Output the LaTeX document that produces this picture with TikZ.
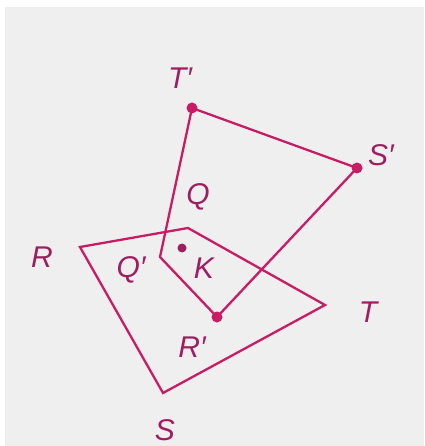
\documentclass[tikz,border=0pt]{standalone}
\usepackage{fontspec}
\setmainfont{Liberation Sans}
\usepackage{tikz}
\usetikzlibrary{positioning}
\definecolor{magline}{RGB}{200,28,100}
\definecolor{maglabel}{RGB}{160,30,95}
\definecolor{paper}{RGB}{239,239,239}

\tikzset{
  edge/.style={magline, line width=2.3pt, line join=miter},
  vdot/.style={circle, fill=magline, inner sep=0pt, minimum size=11pt},
  kdot/.style={circle, fill=maglabel, inner sep=0pt, minimum size=9pt},
  lbl/.style={maglabel, font=\fontsize{30}{32}\selectfont\itshape, inner sep=0pt}
}

\begin{document}
\begin{tikzpicture}[x=1pt, y=-1pt]
  % page
  \fill[white] (0,0) rectangle (424,446);
  \fill[paper] (5,7) rectangle (424,446);
  \useasboundingbox (0,0) rectangle (424,446);

  % original figure QRST
  \coordinate (R) at (80,247);
  \coordinate (Q) at (188,228);
  \coordinate (T) at (325,305);
  \coordinate (S) at (163,393);
  \draw[edge] (R) -- (Q) -- (T) -- (S) -- cycle;

  % rotated image Q'T'S'R'
  \coordinate (Qp) at (160,257);
  \node[vdot] (Tp) at (192,108) {};
  \node[vdot] (Sp) at (357,168) {};
  \node[vdot] (Rp) at (217,317) {};
  \draw[edge] (Qp) -- (Tp.center) -- (Sp.center) -- (Rp.center) -- cycle;

  % center of rotation
  \node[kdot] (K) at (182,248) {};

  % labels
  \node[lbl] (lT') at (180,78) {T′};
  \node[lbl] (lS') at (381,155) {S′};
  \node[lbl] (lQ) at (198,197) {Q};
  \node[lbl] (lR) at (42,257) {R};
  \node[lbl] (lQ') at (131,270) {Q′};
  \node[lbl] (lK) at (204,268) {K};
  \node[lbl] (lT) at (368,312) {T};
  \node[lbl] (lR') at (192,347) {R′};
  \node[lbl] (lS) at (165,430) {S};
\end{tikzpicture}
\end{document}
